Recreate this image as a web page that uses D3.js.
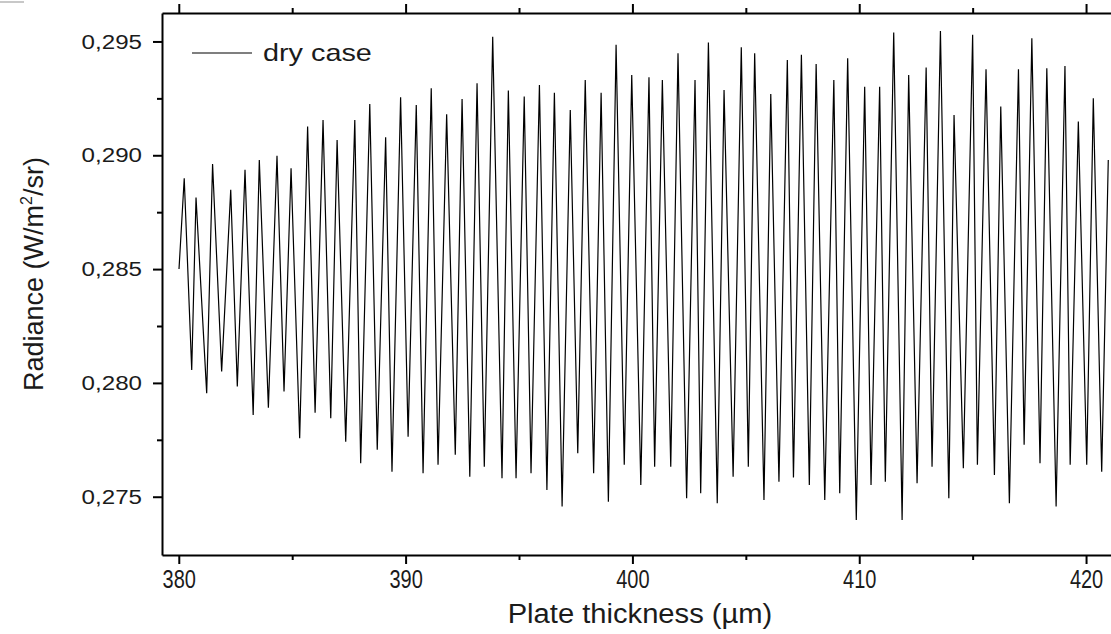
<!DOCTYPE html>
<html>
<head>
<meta charset="utf-8">
<script src="https://cdn.jsdelivr.net/npm/d3@7"></script>
<style>
  html,body{margin:0;padding:0;background:#fff;}
  svg{display:block;}
  text{font-family:"Liberation Sans",Arial,sans-serif;fill:#1b1b1b;}
</style>
</head>
<body>
<svg id="chart" width="1111" height="634"></svg>
<script>
// values (peaks and troughs of the dry case curve)
const thickness = [
  380.01, 380.24, 380.57, 380.76, 381.23, 381.49, 381.89, 382.29, 382.58, 382.92,
  383.28, 383.55, 383.95, 384.33, 384.64, 384.95, 385.33, 385.68, 386.01, 386.36,
  386.70, 386.98, 387.36, 387.76, 388.02, 388.42, 388.75, 389.12, 389.40, 389.78,
  390.11, 390.47, 390.77, 391.13, 391.43, 391.81, 392.19, 392.49, 392.83, 393.15,
  393.47, 393.84, 394.25, 394.53, 394.87, 395.23, 395.53, 395.90, 396.23, 396.56,
  396.90, 397.26, 397.59, 397.92, 398.29, 398.62, 398.94, 399.28, 399.64, 399.97,
  400.37, 400.73, 400.98, 401.32, 401.69, 402.01, 402.39, 402.76, 403.01, 403.35,
  403.74, 404.04, 404.44, 404.80, 405.11, 405.39, 405.80, 406.10, 406.46, 406.83,
  407.10, 407.45, 407.80, 408.10, 408.48, 408.88, 409.14, 409.49, 409.87, 410.24,
  410.52, 410.90, 411.15, 411.52, 411.89, 412.18, 412.55, 412.95, 413.21, 413.58,
  413.95, 414.18, 414.59, 415.00, 415.21, 415.59, 415.96, 416.24, 416.62, 417.02,
  417.27, 417.61, 417.97, 418.27, 418.68, 419.07, 419.30, 419.66, 420.03, 420.32,
  420.69, 420.98
];
const radiance = [
  0.28500, 0.28899, 0.28057, 0.28814, 0.27955, 0.28962, 0.28050, 0.28848, 0.27984, 0.28936,
  0.27859, 0.28979, 0.27891, 0.28998, 0.27962, 0.28943, 0.27757, 0.29126, 0.27869, 0.29155,
  0.27845, 0.29067, 0.27742, 0.29155, 0.27647, 0.29225, 0.27706, 0.29079, 0.27610, 0.29255,
  0.27764, 0.29221, 0.27603, 0.29294, 0.27640, 0.29180, 0.27684, 0.29247, 0.27588, 0.29316,
  0.27632, 0.29521, 0.27581, 0.29284, 0.27581, 0.29258, 0.27603, 0.29309, 0.27530, 0.29275,
  0.27457, 0.29199, 0.27691, 0.29331, 0.27603, 0.29275, 0.27478, 0.29485, 0.27640, 0.29353,
  0.27552, 0.29343, 0.27632, 0.29331, 0.27632, 0.29448, 0.27493, 0.29331, 0.27515, 0.29495,
  0.27471, 0.29287, 0.27588, 0.29475, 0.27632, 0.29448, 0.27486, 0.29269, 0.27566, 0.29419,
  0.27585, 0.29441, 0.27552, 0.29401, 0.27486, 0.29331, 0.27515, 0.29426, 0.27398, 0.29301,
  0.27552, 0.29301, 0.27566, 0.29539, 0.27398, 0.29353, 0.27559, 0.29385, 0.27632, 0.29546,
  0.27493, 0.29177, 0.27625, 0.29529, 0.27640, 0.29378, 0.27596, 0.29214, 0.27471, 0.29378,
  0.27728, 0.29514, 0.27647, 0.29382, 0.27457, 0.29392, 0.27640, 0.29148, 0.27640, 0.29250,
  0.27610, 0.28979
];

const xTicks = [380, 390, 400, 410, 420];
const xMinor = [385, 395, 405, 415];
const yTicks = [0.275, 0.280, 0.285, 0.290, 0.295];
const yMinor = [0.2775, 0.2825, 0.2875, 0.2925];
const seriesName = "dry case";
const xTitle = "Plate thickness (µm)";

const W = 1111, H = 634;
const m = {top:13, left:162, bottom:555, right:1111};

const svg = d3.select("#chart");

const x = d3.scaleLinear().domain([379.26, 421.10]).range([m.left, m.right]);
const y = d3.scaleLinear().domain([0.27244, 0.29625]).range([m.bottom, m.top]);

const comma = d => d3.format(".3f")(d).replace(".", ",");

// data line (clipped to plot area)
svg.append("clipPath").attr("id","plotclip")
  .append("rect").attr("x", m.left).attr("y", m.top)
  .attr("width", m.right - m.left).attr("height", m.bottom - m.top);

const pts = thickness.map((t,i)=>[t, radiance[i]]);
svg.append("path")
  .datum(pts)
  .attr("clip-path","url(#plotclip)")
  .attr("fill","none")
  .attr("stroke","#000")
  .attr("stroke-width",1.2)
  .attr("d", d3.line().x(d=>x(d[0])).y(d=>y(d[1])));

function styleAxis(g){
  g.select(".domain").attr("stroke","#000").attr("stroke-width",2);
  g.selectAll(".tick line").attr("stroke","#000").attr("stroke-width",2);
}

// minor ticks (no labels)
svg.append("g").attr("transform",`translate(0,${m.bottom})`)
  .call(d3.axisBottom(x).tickValues(xMinor).tickSize(5).tickSizeOuter(0).tickFormat(""))
  .call(styleAxis).call(g=>g.select(".domain").remove());
svg.append("g").attr("transform",`translate(0,${m.top})`)
  .call(d3.axisTop(x).tickValues(xMinor).tickSize(5).tickSizeOuter(0).tickFormat(""))
  .call(styleAxis).call(g=>g.select(".domain").remove());
svg.append("g").attr("transform",`translate(${m.left},0)`)
  .call(d3.axisLeft(y).tickValues(yMinor).tickSize(5).tickSizeOuter(0).tickFormat(""))
  .call(styleAxis).call(g=>g.select(".domain").remove());

// bottom axis
const xSx = 0.8;
svg.append("g").attr("transform",`translate(0,${m.bottom})`)
  .call(d3.axisBottom(x).tickValues(xTicks).tickSize(9).tickSizeOuter(0).tickPadding(6))
  .call(styleAxis)
  .call(g=>g.selectAll(".tick text")
    .attr("font-size",25).attr("font-family",null)
    .attr("transform",`scale(${xSx},1)`));

// top axis (ticks only)
svg.append("g").attr("transform",`translate(0,${m.top})`)
  .call(d3.axisTop(x).tickValues(xTicks).tickSize(9).tickSizeOuter(0).tickFormat(""))
  .call(styleAxis);

// left axis
const ySx = 1.15;
svg.append("g").attr("transform",`translate(${m.left},0)`)
  .call(d3.axisLeft(y).tickValues(yTicks).tickSize(9).tickSizeOuter(0).tickPadding(11).tickFormat(comma))
  .call(styleAxis)
  .call(g=>g.selectAll(".tick text")
    .attr("font-size",21).attr("font-family",null)
    .attr("x", -20/ySx)
    .attr("transform",`scale(${ySx},1)`));

// axis titles
svg.append("text")
  .attr("transform","translate(640,623) scale(1.08,1)")
  .attr("text-anchor","middle")
  .attr("font-size",27)
  .text(xTitle);

const yt = svg.append("text")
  .attr("transform","translate(43,274) rotate(-90)")
  .attr("text-anchor","middle")
  .attr("font-size",27);
yt.append("tspan").text("Radiance (W/m");
yt.append("tspan").attr("font-size",16).attr("dy",-11).text("2");
yt.append("tspan").attr("dy",11).text("/sr)");

// legend
const lg = svg.append("g").attr("transform","translate(192,53)");
lg.append("line").attr("x1",0).attr("x2",60).attr("y1",0).attr("y2",0)
  .attr("stroke","#000").attr("stroke-width",1.2);
lg.append("text").attr("x",71/1.2).attr("y",8)
  .attr("font-size",24)
  .attr("transform","scale(1.2,1)")
  .text(seriesName);

// small grey mark in the top-left corner of the picture
svg.append("line").attr("x1",0).attr("x2",24).attr("y1",2).attr("y2",2)
  .attr("stroke","#c8c8c8").attr("stroke-width",2);
</script>
</body>
</html>
